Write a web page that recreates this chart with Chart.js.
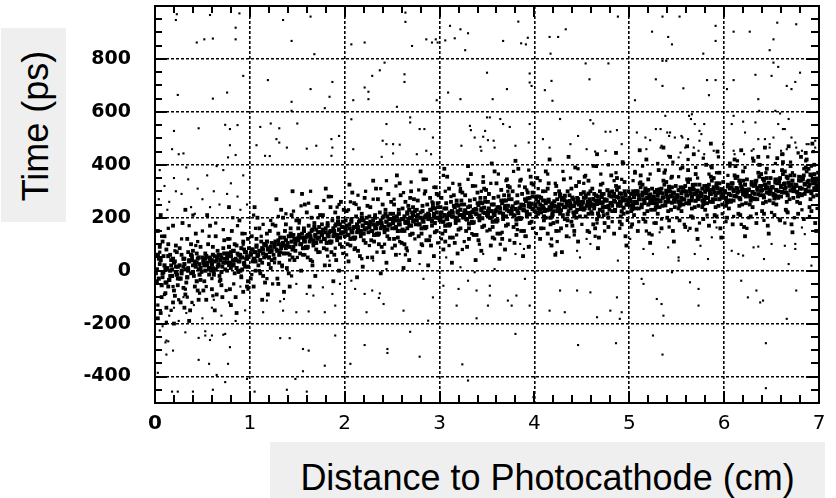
<!DOCTYPE html>
<html><head><meta charset="utf-8">
<script src="https://cdn.jsdelivr.net/npm/chart.js@4"></script>
<style>
html,body{margin:0;padding:0;background:#fff;}
#wrap{position:relative;width:836px;height:498px;overflow:hidden;background:#fff}
canvas{position:absolute;left:0;top:0}
#ybox{position:absolute;left:1px;top:28px;width:65px;height:194px;background:#efefef}
#ytitle{position:absolute;left:35px;top:126px;transform:translate(-50%,-50%) rotate(-90deg);font:36px "Liberation Sans",Arial,sans-serif;white-space:nowrap;color:#000;line-height:41px}
#xbox{position:absolute;left:270px;top:442px;width:555px;height:56px;background:#efefef}
#xtitle{position:absolute;left:270px;width:555px;top:457px;text-align:center;font:36px "Liberation Sans",Arial,sans-serif;white-space:nowrap;color:#000;line-height:41px}
</style></head>
<body><div id="wrap">
<canvas id="c" width="836" height="498"></canvas>
<div id="ybox"></div><div id="ytitle">Time (ps)</div>
<div id="xbox"></div><div id="xtitle">Distance to Photocathode (cm)</div>
</div>
<script>
// ---- axis ticks ----
const xTicks = [0,1,2,3,4,5,6,7];
const yTicks = [-400,-200,0,200,400,600,800];

// ---- dense band, flat [x,y, x,y, ...] pairs, by unit of distance ----
const band0 = [0.02,-40,0.05,25,0.08,110,0.11,-85,0.13,10,0.16,60,0.19,-120,0.21,35,0.23,-15,0.03,150,0.06,-160,0.09,-5,0.12,80,0.14,-60,0.17,20,0.2,-200,0.22,95,0.24,-30,0.04,45,0.07,-100,0.1,130,0.15,-35,0.18,5,0.01,-10,0.23,70,0.2,-75,0.06,210,0.12,-140,0.16,-20,0.09,55,0.19,170,0.24,-55,0.03,-180,0.14,100,0.08,-25,0.21,-95,0.17,40,0.11,-45,0.05,90,0.22,15,
0.26,-30,0.28,60,0.3,15,0.32,-90,0.34,120,0.36,40,0.38,-10,0.4,75,0.42,-60,0.44,30,0.46,5,0.48,90,0.27,-120,0.29,180,0.31,45,0.33,-45,0.35,10,0.37,-150,0.39,55,0.41,-20,0.43,140,0.45,-75,0.47,25,0.49,-5,0.26,85,0.3,-65,0.34,-25,0.38,100,0.42,35,0.46,-110,0.5,50,0.28,0,0.32,230,0.36,-190,0.4,20,0.44,65,0.48,-35,0.35,70,0.45,45,0.31,-140,
0.51,30,0.53,45,0.55,20,0.57,50,0.59,35,0.61,10,0.63,55,0.65,40,0.67,25,0.69,60,0.71,15,0.73,45,0.52,-40,0.56,100,0.6,-70,0.64,130,0.68,-20,0.72,85,0.54,-110,0.58,170,0.62,-5,0.66,75,0.7,-55,0.74,5,0.53,65,0.57,-15,0.61,90,0.65,-90,0.69,-35,0.73,115,0.55,210,0.63,-150,0.71,-100,0.59,0,0.67,60,0.51,-75,0.75,30,0.6,40,0.66,15,0.7,50,
0.76,55,0.78,20,0.8,70,0.82,40,0.84,-10,0.86,95,0.88,35,0.9,60,0.92,5,0.94,80,0.96,45,0.98,-40,0.77,120,0.79,-70,0.81,150,0.83,25,0.85,-100,0.87,65,0.89,190,0.91,-25,0.93,110,0.95,15,0.97,-60,0.99,85,0.76,0,0.8,-130,0.84,100,0.88,-5,0.92,140,0.96,70,0.78,240,0.86,-160,0.94,30,0.82,75,0.9,50,0.98,120,0.85,45,0.93,-80,0.8,10,0.97,55];
const band1 = [1.01,65,1.03,80,1.05,45,1.07,90,1.09,60,1.11,75,1.13,30,1.15,100,1.17,55,1.19,85,1.21,70,1.23,40,1.02,130,1.06,0,1.1,160,1.14,-20,1.18,140,1.22,10,1.04,-60,1.08,200,1.12,110,1.16,-45,1.2,25,1.24,175,1.03,35,1.07,120,1.11,-10,1.15,50,1.19,-90,1.23,105,1.05,240,1.13,-110,1.21,150,1.09,20,1.17,95,1.01,-30,1.25,60,1.14,80,1.06,70,1.2,50,
1.26,100,1.28,80,1.3,115,1.32,70,1.34,95,1.36,125,1.38,85,1.4,105,1.42,60,1.44,130,1.46,90,1.48,110,1.27,170,1.31,30,1.35,200,1.39,10,1.43,160,1.47,40,1.29,-30,1.33,230,1.37,150,1.41,-10,1.45,50,1.49,190,1.26,45,1.3,140,1.34,20,1.38,175,1.42,-60,1.46,135,1.28,270,1.36,-80,1.44,210,1.32,100,1.4,65,1.48,75,1.3,-50,1.45,300,1.35,95,1.49,120,
1.51,125,1.53,100,1.55,140,1.57,115,1.59,90,1.61,135,1.63,110,1.65,150,1.67,105,1.69,130,1.71,120,1.73,145,1.52,190,1.56,60,1.6,220,1.64,40,1.68,180,1.72,70,1.54,0,1.58,250,1.62,170,1.66,20,1.7,80,1.74,210,1.53,65,1.57,160,1.61,50,1.65,200,1.69,-20,1.73,165,1.55,290,1.63,-60,1.71,240,1.59,125,1.67,95,1.51,160,1.75,110,1.6,85,1.7,155,1.64,130,
1.76,145,1.78,120,1.8,160,1.82,135,1.84,110,1.86,150,1.88,130,1.9,170,1.92,125,1.94,155,1.96,140,1.98,165,1.77,210,1.81,80,1.85,240,1.89,60,1.93,200,1.97,90,1.79,20,1.83,280,1.87,190,1.91,40,1.95,100,1.99,230,1.78,85,1.82,180,1.86,70,1.9,220,1.94,0,1.98,185,1.8,310,1.88,-40,1.96,260,1.84,145,1.92,115,1.76,175,2.0,130,1.85,105,1.95,175,1.89,150];
const band2 = [2.01,160,2.03,135,2.05,175,2.07,150,2.09,125,2.11,165,2.13,145,2.15,185,2.17,140,2.19,170,2.21,155,2.23,180,2.02,225,2.06,95,2.1,255,2.14,75,2.18,215,2.22,105,2.04,35,2.08,295,2.12,205,2.16,55,2.2,115,2.24,245,2.03,100,2.07,195,2.11,85,2.15,235,2.19,15,2.23,200,2.05,325,2.13,-25,2.21,275,2.09,160,2.17,130,2.01,190,2.25,145,2.1,120,2.2,190,2.14,165,
2.26,175,2.28,150,2.3,190,2.32,165,2.34,140,2.36,180,2.38,160,2.4,200,2.42,155,2.44,185,2.46,170,2.48,195,2.27,240,2.31,110,2.35,270,2.39,90,2.43,230,2.47,120,2.29,50,2.33,310,2.37,220,2.41,70,2.45,130,2.49,260,2.28,115,2.32,210,2.36,100,2.4,250,2.44,30,2.48,215,2.3,340,2.38,-10,2.46,290,2.34,175,2.42,145,2.26,205,2.5,160,2.35,135,2.45,205,2.39,180,
2.51,190,2.53,160,2.55,205,2.57,175,2.6,150,2.62,195,2.64,180,2.66,215,2.68,170,2.7,200,2.72,185,2.74,225,2.52,250,2.56,125,2.59,285,2.63,100,2.67,245,2.71,140,2.54,60,2.58,330,2.61,235,2.65,85,2.69,135,2.73,270,2.52,120,2.57,230,2.6,105,2.64,260,2.68,40,2.72,240,2.55,360,2.62,10,2.7,300,2.58,190,2.66,160,2.51,215,2.75,175,2.63,150,2.71,220,2.67,195,2.53,95,2.69,275,
2.76,205,2.78,175,2.8,220,2.82,190,2.84,165,2.86,210,2.88,195,2.9,230,2.92,185,2.94,215,2.96,200,2.98,240,2.77,265,2.81,140,2.85,300,2.89,115,2.93,255,2.97,150,2.79,70,2.83,345,2.87,250,2.91,95,2.95,145,2.99,285,2.78,130,2.82,245,2.86,115,2.9,275,2.94,55,2.98,255,2.8,375,2.88,20,2.96,315,2.84,200,2.92,170,2.76,230,3.0,190,2.85,160,2.95,235,2.89,210,2.81,100,2.97,290];
const band3 = [3.01,210,3.03,185,3.05,235,3.07,200,3.09,175,3.11,220,3.13,205,3.15,245,3.17,190,3.19,225,3.21,210,3.23,250,3.02,275,3.06,150,3.1,310,3.14,125,3.18,265,3.22,160,3.04,80,3.08,355,3.12,260,3.16,105,3.2,155,3.24,295,3.03,140,3.07,255,3.11,125,3.15,285,3.19,65,3.23,265,3.05,385,3.13,30,3.21,325,3.09,210,3.17,180,3.01,240,3.25,200,3.1,170,3.2,245,3.14,220,3.06,110,3.22,300,
3.26,220,3.28,195,3.3,240,3.32,210,3.34,185,3.36,230,3.38,215,3.4,255,3.42,200,3.44,235,3.46,220,3.48,260,3.27,285,3.31,160,3.35,320,3.39,135,3.43,275,3.47,170,3.29,90,3.33,365,3.37,270,3.41,115,3.45,165,3.49,305,3.28,150,3.32,265,3.36,135,3.4,295,3.44,75,3.48,275,3.3,395,3.38,40,3.46,335,3.34,220,3.42,190,3.26,250,3.5,210,3.35,180,3.45,255,3.39,230,3.31,120,3.47,310,
3.51,225,3.53,200,3.55,250,3.57,215,3.59,190,3.61,240,3.63,220,3.65,265,3.67,205,3.69,245,3.71,230,3.73,270,3.52,290,3.56,165,3.6,330,3.64,140,3.68,285,3.72,175,3.54,95,3.58,375,3.62,280,3.66,120,3.7,170,3.74,315,3.53,155,3.57,275,3.61,140,3.65,305,3.69,80,3.73,285,3.55,405,3.63,45,3.71,345,3.59,225,3.67,195,3.51,260,3.75,215,3.6,185,3.7,265,3.64,235,3.56,125,3.72,320,
3.76,235,3.78,210,3.8,255,3.82,225,3.84,200,3.86,250,3.88,230,3.9,270,3.92,215,3.94,255,3.96,240,3.98,280,3.77,300,3.81,175,3.85,340,3.89,150,3.93,295,3.97,185,3.79,105,3.83,385,3.87,290,3.91,130,3.95,180,3.99,325,3.78,165,3.82,285,3.86,150,3.9,315,3.94,90,3.98,295,3.8,415,3.88,55,3.96,355,3.84,235,3.92,205,3.76,270,4.0,225,3.85,195,3.95,275,3.89,245,3.81,135,3.97,330];
const band4 = [4.01,250,4.02,205,4.04,235,4.05,280,4.07,220,4.08,245,4.1,190,4.11,265,4.13,230,4.14,310,4.16,240,4.17,175,4.19,255,4.2,225,4.22,290,4.23,150,4.25,240,4.03,350,4.06,120,4.09,265,4.12,200,4.15,330,4.18,95,4.21,245,4.24,185,4.02,270,4.07,160,4.12,375,4.17,230,4.22,60,4.04,215,4.09,300,4.14,140,4.19,210,4.24,270,4.06,250,4.11,225,4.16,420,4.2,180,4.15,260,4.1,235,4.23,320,4.18,240,
4.26,235,4.27,280,4.29,250,4.3,210,4.32,265,4.33,240,4.35,300,4.36,225,4.38,255,4.39,185,4.41,270,4.42,245,4.44,320,4.45,230,4.47,260,4.48,205,4.5,250,4.28,160,4.31,345,4.34,130,4.37,285,4.4,170,4.43,390,4.46,110,4.49,290,4.27,215,4.32,195,4.37,245,4.42,150,4.47,335,4.29,70,4.34,260,4.39,310,4.44,200,4.49,240,4.31,275,4.36,430,4.41,220,4.46,255,4.26,300,4.35,190,4.45,275,4.4,245,
4.51,260,4.52,230,4.54,285,4.55,245,4.57,215,4.58,270,4.6,250,4.61,310,4.63,235,4.64,265,4.66,195,4.67,280,4.69,255,4.7,325,4.72,240,4.73,210,4.75,265,4.53,355,4.56,150,4.59,300,4.62,175,4.65,395,4.68,125,4.71,290,4.74,180,4.52,275,4.57,340,4.62,250,4.67,85,4.72,225,4.54,205,4.59,245,4.64,160,4.69,300,4.74,270,4.56,260,4.61,215,4.66,440,4.71,255,4.63,290,4.58,235,4.68,205,4.73,290,
4.76,265,4.77,240,4.79,295,4.8,255,4.82,225,4.83,280,4.85,260,4.86,320,4.88,245,4.89,275,4.91,205,4.92,290,4.94,265,4.95,335,4.97,250,4.98,220,5.0,275,4.78,165,4.81,360,4.84,140,4.87,305,4.9,185,4.93,410,4.96,130,4.99,300,4.77,215,4.82,245,4.87,350,4.92,175,4.97,95,4.79,230,4.84,290,4.89,315,4.94,215,4.99,260,4.81,280,4.86,445,4.91,245,4.96,270,4.85,225,4.9,260,4.95,300,4.78,200];
const band5 = [5.01,270,5.02,245,5.04,300,5.05,260,5.07,235,5.08,290,5.1,270,5.11,330,5.13,250,5.14,285,5.16,215,5.17,300,5.19,275,5.2,345,5.22,260,5.23,230,5.25,280,5.03,175,5.06,370,5.09,150,5.12,315,5.15,195,5.18,420,5.21,140,5.24,310,5.02,225,5.07,260,5.12,360,5.17,185,5.22,105,5.04,240,5.09,300,5.14,325,5.19,225,5.24,265,5.06,290,5.11,455,5.16,255,5.21,280,5.1,235,5.15,270,5.2,305,5.05,210,5.23,255,
5.26,280,5.27,255,5.29,305,5.3,270,5.32,240,5.33,295,5.35,275,5.36,340,5.38,260,5.39,290,5.41,225,5.42,310,5.44,280,5.45,355,5.47,265,5.48,240,5.5,285,5.28,180,5.31,380,5.34,160,5.37,325,5.4,200,5.43,430,5.46,150,5.49,320,5.27,230,5.32,265,5.37,370,5.42,190,5.47,110,5.29,245,5.34,310,5.39,335,5.44,230,5.49,270,5.31,295,5.36,465,5.41,260,5.46,290,5.35,245,5.4,280,5.45,315,5.3,215,5.48,260,
5.51,285,5.52,260,5.54,315,5.55,275,5.57,250,5.58,300,5.6,285,5.61,345,5.63,265,5.64,300,5.66,235,5.67,315,5.69,290,5.7,365,5.72,275,5.73,245,5.75,295,5.53,190,5.56,390,5.59,165,5.62,335,5.65,205,5.68,440,5.71,155,5.74,325,5.52,235,5.57,270,5.62,380,5.67,200,5.72,120,5.54,250,5.59,320,5.64,345,5.69,240,5.74,280,5.56,300,5.61,470,5.66,265,5.71,295,5.6,255,5.65,290,5.7,325,5.55,225,5.73,270,
5.76,290,5.77,265,5.79,320,5.8,280,5.82,255,5.83,310,5.85,290,5.86,355,5.88,270,5.89,305,5.91,240,5.92,320,5.94,295,5.95,370,5.97,280,5.98,250,6.0,300,5.78,195,5.81,400,5.84,170,5.87,340,5.9,210,5.93,450,5.96,160,5.99,335,5.77,240,5.82,275,5.87,390,5.92,205,5.97,125,5.79,255,5.84,325,5.89,350,5.94,245,5.99,285,5.81,305,5.86,480,5.91,270,5.96,300,5.85,260,5.9,295,5.95,330,5.8,230,5.98,275];
const band6 = [6.01,295,6.02,270,6.04,325,6.05,290,6.07,260,6.08,315,6.1,300,6.11,360,6.13,280,6.14,310,6.16,245,6.17,330,6.19,300,6.2,375,6.22,285,6.23,255,6.25,305,6.03,200,6.06,405,6.09,175,6.12,350,6.15,215,6.18,455,6.21,165,6.24,345,6.02,245,6.07,285,6.12,395,6.17,210,6.22,130,6.04,265,6.09,330,6.14,355,6.19,250,6.24,290,6.06,310,6.11,420,6.16,275,6.21,305,6.1,265,6.15,300,6.2,340,6.05,235,6.23,280,
6.26,305,6.27,280,6.29,335,6.3,295,6.32,270,6.33,325,6.35,305,6.36,370,6.38,285,6.39,320,6.41,255,6.42,340,6.44,310,6.45,385,6.47,295,6.48,265,6.5,315,6.28,205,6.31,415,6.34,180,6.37,355,6.4,225,6.43,465,6.46,170,6.49,350,6.27,250,6.32,290,6.37,400,6.42,215,6.47,140,6.29,275,6.34,340,6.39,365,6.44,260,6.49,300,6.31,320,6.36,430,6.41,285,6.46,315,6.35,270,6.4,305,6.45,350,6.3,240,6.48,290,
6.51,315,6.52,285,6.54,345,6.55,305,6.57,275,6.58,335,6.6,315,6.61,380,6.63,295,6.64,330,6.66,260,6.67,350,6.69,320,6.7,395,6.72,305,6.73,275,6.75,325,6.53,210,6.56,425,6.59,190,6.62,365,6.65,230,6.68,470,6.71,175,6.74,360,6.52,255,6.57,300,6.62,410,6.67,220,6.72,145,6.54,285,6.59,350,6.64,375,6.69,270,6.74,310,6.56,330,6.61,440,6.66,295,6.71,325,6.6,280,6.65,315,6.7,360,6.55,250,6.73,300,
6.76,320,6.77,295,6.79,355,6.8,310,6.82,285,6.83,345,6.85,325,6.86,390,6.88,300,6.89,340,6.91,270,6.92,360,6.94,330,6.95,400,6.97,315,6.98,285,7.0,335,6.78,215,6.81,430,6.84,195,6.87,375,6.9,240,6.93,480,6.96,180,6.99,370,6.77,260,6.82,310,6.87,420,6.92,225,6.97,150,6.79,290,6.84,360,6.89,385,6.94,280,6.99,320,6.81,340,6.86,445,6.91,300,6.96,335,6.85,290,6.9,325,6.95,365,6.8,255,6.98,310];

// ---- dark core of the band ----
const core0 = [0.02,5,0.04,-30,0.06,40,0.08,-10,0.1,20,0.12,-45,0.14,55,0.16,0,0.18,-20,0.2,30,0.22,-5,0.24,15,0.03,60,0.07,-55,0.11,10,0.15,-35,0.19,45,0.23,-15,
0.26,20,0.28,-10,0.3,45,0.32,5,0.34,-25,0.36,35,0.38,60,0.4,-5,0.42,25,0.44,-40,0.46,50,0.48,10,0.27,-30,0.31,25,0.35,0,0.39,40,0.43,15,0.47,-15,
0.51,40,0.52,20,0.54,55,0.55,30,0.57,10,0.58,45,0.6,25,0.61,60,0.63,35,0.64,5,0.66,50,0.67,20,0.69,40,0.7,-5,0.72,30,0.73,65,0.53,0,0.62,-15,
0.76,45,0.77,65,0.79,30,0.8,55,0.82,20,0.83,75,0.85,40,0.86,10,0.88,60,0.89,35,0.91,85,0.92,50,0.94,25,0.95,70,0.97,45,0.98,15,0.78,90,0.9,0];
const core1 = [1.01,60,1.02,80,1.04,45,1.05,70,1.07,95,1.08,55,1.1,75,1.11,40,1.13,85,1.14,65,1.16,100,1.17,60,1.19,80,1.2,50,1.22,90,1.23,75,1.06,35,1.18,110,
1.26,90,1.27,110,1.29,75,1.3,100,1.32,125,1.33,85,1.35,105,1.36,65,1.38,115,1.39,95,1.41,130,1.42,90,1.44,110,1.45,80,1.47,120,1.48,100,1.31,60,1.43,140,
1.51,115,1.52,135,1.54,100,1.55,125,1.57,150,1.58,110,1.6,130,1.61,90,1.63,140,1.64,120,1.66,155,1.67,115,1.69,135,1.7,105,1.72,145,1.73,125,1.56,85,1.68,165,
1.76,135,1.77,155,1.79,120,1.8,145,1.82,170,1.83,130,1.85,150,1.86,110,1.88,160,1.89,140,1.91,175,1.92,135,1.94,155,1.95,125,1.97,165,1.98,145,1.81,105,1.93,185];
const core2 = [2.01,150,2.02,170,2.04,135,2.05,160,2.07,185,2.08,145,2.1,165,2.11,125,2.13,175,2.14,155,2.16,190,2.17,150,2.19,170,2.2,140,2.22,180,2.23,160,2.06,120,2.18,200,
2.26,165,2.27,185,2.29,150,2.3,175,2.32,200,2.33,160,2.35,180,2.36,140,2.38,190,2.39,170,2.41,205,2.42,165,2.44,185,2.45,155,2.47,195,2.48,175,2.31,135,2.43,215,
2.51,180,2.52,200,2.54,165,2.55,190,2.57,215,2.58,175,2.6,195,2.61,155,2.63,205,2.64,185,2.66,220,2.67,180,2.69,200,2.7,170,2.72,210,2.73,190,2.56,150,2.68,230,
2.76,190,2.77,210,2.79,175,2.8,200,2.82,225,2.83,185,2.85,205,2.86,165,2.88,215,2.89,195,2.91,230,2.92,190,2.94,210,2.95,180,2.97,220,2.98,200,2.81,160,2.93,240];
const core3 = [3.01,200,3.02,220,3.04,185,3.05,210,3.07,235,3.08,195,3.1,215,3.11,175,3.13,225,3.14,205,3.16,240,3.17,200,3.19,220,3.2,190,3.22,230,3.23,210,3.06,170,3.18,250,
3.26,208,3.27,228,3.29,193,3.3,218,3.32,243,3.33,203,3.35,223,3.36,183,3.38,233,3.39,213,3.41,248,3.42,208,3.44,228,3.45,198,3.47,238,3.48,218,3.31,178,3.43,258,
3.51,215,3.52,235,3.54,200,3.55,225,3.57,250,3.58,210,3.6,230,3.61,190,3.63,240,3.64,220,3.66,255,3.67,215,3.69,235,3.7,205,3.72,245,3.73,225,3.56,185,3.68,265,
3.76,223,3.77,243,3.79,208,3.8,233,3.82,258,3.83,218,3.85,238,3.86,198,3.88,248,3.89,228,3.91,263,3.92,223,3.94,243,3.95,213,3.97,253,3.98,233,3.81,193,3.93,273];
const core4 = [4.01,245,4.03,220,4.04,260,4.06,232,4.07,275,4.09,240,4.1,205,4.12,255,4.13,228,4.15,268,4.16,236,4.18,250,4.19,214,4.21,262,4.22,242,4.24,225,4.02,280,4.17,200,
4.26,250,4.28,228,4.29,268,4.31,240,4.32,283,4.34,248,4.35,213,4.37,263,4.38,236,4.4,276,4.41,244,4.43,258,4.44,222,4.46,270,4.47,250,4.49,233,4.27,288,4.42,208,
4.51,258,4.53,236,4.54,276,4.56,248,4.57,291,4.59,256,4.6,221,4.62,271,4.63,244,4.65,284,4.66,252,4.68,266,4.69,230,4.71,278,4.72,258,4.74,241,4.52,296,4.67,216,
4.76,266,4.78,244,4.79,284,4.81,256,4.82,299,4.84,264,4.85,229,4.87,279,4.88,252,4.9,292,4.91,260,4.93,274,4.94,238,4.96,286,4.97,266,4.99,249,4.77,304,4.92,224];
const core5 = [5.01,262,5.02,290,5.04,248,5.05,278,5.07,300,5.08,255,5.1,285,5.11,270,5.13,240,5.14,295,5.16,265,5.17,310,5.19,275,5.2,250,5.22,288,5.23,268,5.03,232,5.18,292,
5.26,269,5.27,297,5.29,255,5.3,285,5.32,307,5.33,262,5.35,292,5.36,277,5.38,247,5.39,302,5.41,272,5.42,317,5.44,282,5.45,257,5.47,295,5.48,275,5.28,239,5.43,299,
5.51,276,5.52,304,5.54,262,5.55,292,5.57,314,5.58,269,5.6,299,5.61,284,5.63,254,5.64,309,5.66,279,5.67,324,5.69,289,5.7,264,5.72,302,5.73,282,5.53,246,5.68,306,
5.76,282,5.77,310,5.79,268,5.8,298,5.82,320,5.83,275,5.85,305,5.86,290,5.88,260,5.89,315,5.91,285,5.92,330,5.94,295,5.95,270,5.97,308,5.98,288,5.78,252,5.93,312];
const core6 = [6.01,300,6.02,275,6.04,318,6.05,290,6.07,265,6.08,330,6.1,305,6.11,282,6.13,312,6.14,295,6.16,340,6.17,270,6.19,308,6.2,288,6.22,325,6.23,298,6.03,258,6.18,318,
6.26,307,6.27,282,6.29,325,6.3,297,6.32,272,6.33,337,6.35,312,6.36,289,6.38,319,6.39,302,6.41,347,6.42,277,6.44,315,6.45,295,6.47,332,6.48,305,6.28,265,6.43,325,
6.51,315,6.52,290,6.54,333,6.55,305,6.57,280,6.58,345,6.6,320,6.61,297,6.63,327,6.64,310,6.66,355,6.67,285,6.69,323,6.7,303,6.72,340,6.73,313,6.53,273,6.68,333,
6.76,323,6.77,298,6.79,341,6.8,313,6.82,288,6.83,353,6.85,328,6.86,305,6.88,335,6.89,318,6.91,363,6.92,293,6.94,331,6.95,311,6.97,348,6.98,321,6.78,281,6.93,341];

// ---- wider halo around the band ----
const halo0 = [0.03,-130,0.07,130,0.1,-90,0.14,160,0.17,-150,0.21,75,0.25,-110,0.28,120,0.32,-70,0.36,170,0.39,-120,0.43,95,0.47,-85,0.5,150,0.54,-60,0.57,130,0.61,-95,0.64,180,0.68,-40,0.72,155,0.75,-75,0.79,120,0.83,-50,0.87,170,0.91,-20,0.95,140,0.98,-70,0.05,70,0.19,-60,0.34,-100,0.45,110,0.6,-30,0.82,200,0.93,100,0.12,-195,0.4,210];
const halo1 = [1.02,-15,1.06,160,1.1,0,1.14,175,1.18,-30,1.22,190,1.26,30,1.3,205,1.34,15,1.38,215,1.42,40,1.46,225,1.5,50,1.54,245,1.58,60,1.62,255,1.66,35,1.7,240,1.74,70,1.78,265,1.82,55,1.86,280,1.9,85,1.94,250,1.98,65,1.04,210,1.24,-50,1.44,-20,1.64,300,1.84,20,1.12,130,1.52,180,1.72,200,1.92,240];
const halo2 = [2.02,60,2.06,260,2.1,80,2.14,285,2.18,45,2.22,300,2.26,95,2.3,270,2.34,70,2.38,310,2.42,100,2.46,290,2.5,85,2.54,320,2.58,110,2.62,295,2.66,75,2.7,335,2.74,120,2.78,305,2.82,95,2.86,345,2.9,130,2.94,315,2.98,105,2.04,230,2.24,50,2.44,340,2.64,60,2.84,290,2.12,250,2.52,270,2.72,140,2.92,260];
const halo3 = [3.02,120,3.06,300,3.1,95,3.14,330,3.18,135,3.22,310,3.26,110,3.3,345,3.34,140,3.38,320,3.42,100,3.46,355,3.5,150,3.54,330,3.58,120,3.62,365,3.66,145,3.7,340,3.74,115,3.78,375,3.82,155,3.86,345,3.9,130,3.94,380,3.98,160,3.04,360,3.24,80,3.44,300,3.64,100,3.84,320,3.12,280,3.52,290,3.72,300,3.92,305];
const halo4 = [4.02,140,4.06,340,4.1,160,4.14,365,4.18,120,4.22,330,4.26,150,4.3,375,4.34,170,4.38,350,4.42,135,4.46,385,4.5,175,4.54,360,4.58,145,4.62,395,4.66,180,4.7,365,4.74,150,4.78,400,4.82,185,4.86,370,4.9,160,4.94,405,4.98,190,4.04,310,4.24,110,4.44,320,4.64,130,4.84,340,4.12,300,4.52,330,4.72,330,4.92,345];
const halo5 = [5.02,165,5.06,375,5.1,185,5.14,395,5.18,150,5.22,365,5.26,180,5.3,405,5.34,195,5.38,380,5.42,165,5.46,410,5.5,200,5.54,385,5.58,175,5.62,420,5.66,205,5.7,390,5.74,180,5.78,425,5.82,210,5.86,395,5.9,185,5.94,430,5.98,215,5.04,340,5.24,135,5.44,350,5.64,160,5.84,365,5.12,335,5.52,355,5.72,350,5.92,370];
const halo6 = [6.02,185,6.06,395,6.1,205,6.14,415,6.18,175,6.22,390,6.26,200,6.3,425,6.34,215,6.38,400,6.42,190,6.46,430,6.5,220,6.54,405,6.58,195,6.62,440,6.66,225,6.7,410,6.74,200,6.78,445,6.82,230,6.86,415,6.9,205,6.94,450,6.98,235,6.04,360,6.24,160,6.44,370,6.64,180,6.84,385,6.12,355,6.52,375,6.72,370,6.92,395];

// ---- scattered points ----
const upperPoints = [0.23,969,0.22,947,0.58,966,0.89,972,0.85,918,0.44,862,0.52,874,0.61,877,0.85,874,1.35,947,1.44,868,1.64,960,1.68,818,2.07,855,2.21,862,2.64,975,2.64,940,2.71,849,2.86,874,2.92,862,2.96,874,2.98,862,3.06,870,3.16,878,3.11,925,3.22,912,3.30,897,3.27,833,
0.93,736,0.24,664,0.61,650,0.76,673,1.19,720,1.44,638,1.64,686,1.84,657,1.87,713,2.09,644,2.21,692,2.25,676,2.25,648,2.29,736,2.37,757,2.42,786,2.63,742,2.63,713,2.97,644,3.09,673,3.22,648,3.50,748,1.79,614,
0.20,528,0.46,538,0.74,551,0.79,535,0.87,550,0.18,459,0.30,443,0.25,440,0.79,474,0.77,428,0.85,437,1.11,543,1.22,556,1.31,538,1.28,497,1.31,484,1.39,465,1.07,474,1.16,434,1.21,433,1.44,604,1.50,556,1.60,461,1.70,472,1.86,497,1.87,465,1.94,509,1.86,434,2.07,572,2.09,459,2.40,491,2.44,478,2.51,478,2.58,476,2.44,554,2.55,619,2.69,579,2.69,560,2.79,535,2.84,535,2.93,503,2.39,430,2.51,443,2.76,440,2.86,453,2.91,440,3.32,547,3.33,531,3.37,503,3.46,506,3.51,493,3.23,472,3.43,468,3.44,453,3.50,579,
3.83,941,3.67,868,3.86,859,3.91,855,3.93,880,4.16,883,4.25,883,4.33,912,4.17,820,4.88,960,5.24,903,5.35,960,5.53,960,5.41,883,5.45,855,5.78,820,5.91,925,5.91,868,6.10,903,6.27,903,6.52,874,6.48,833,6.56,937,6.76,931,
3.56,648,3.71,686,3.95,745,3.95,711,3.97,698,4.11,682,4.18,717,4.19,642,4.54,783,4.78,783,4.58,723,5.06,644,5.28,723,5.35,698,5.57,689,5.82,720,5.91,720,5.84,663,6.03,686,6.10,720,6.33,740,6.36,648,6.50,736,6.66,698,6.71,686,6.75,713,6.52,786,6.57,770,6.80,748,5.35,793,5.39,793,
3.48,528,3.53,579,3.64,573,3.67,554,3.74,543,3.80,472,3.94,484,3.95,554,3.57,491,3.58,465,4.09,497,4.16,465,4.27,573,4.38,478,4.46,509,4.59,569,4.62,556,4.75,525,4.80,525,4.87,531,4.55,459,4.64,450,4.75,453,4.92,478,5.08,522,5.17,503,5.22,493,5.33,535,5.43,522,5.48,503,5.56,503,5.74,528,5.74,491,5.18,459,5.33,465,5.54,446,5.68,465,5.89,453,5.63,585,5.65,573,6.10,585,6.20,563,6.37,604,6.54,604,6.59,594,6.22,522,6.36,497,6.52,503,6.62,535,6.31,459,6.48,465,6.66,459,6.76,465,6.87,478,6.96,491,5.99,478,6.10,453,
5.38,585,5.28,535,5.40,522,5.42,509,5.55,509,5.62,497,5.69,554,5.79,554,5.76,516,5.73,453,5.79,440,5.59,465,5.41,434,5.52,428,6.08,554,6.11,440,6.21,440,6.29,453,6.33,560,6.43,497,6.48,478,6.57,554,6.64,535,6.68,573,6.71,503,6.75,484,6.60,453,6.82,453,6.89,478,6.96,465,5.66,591,5.34,472];
const lowerPoints = [0.05,-226,0.12,-264,0.19,-302,0.46,-254,0.53,-245,0.58,-262,0.72,-242,0.79,-289,0.46,-337,0.57,-352,0.77,-352,0.03,-386,1.32,-255,1.42,-255,1.56,-296,1.62,-302,1.56,-380,1.79,-359,1.90,-245,2.06,-352,2.21,-281,2.45,-296,2.45,-311,2.69,-231,2.79,-325,3.24,-354,0.65,-394,0.74,-421,0.97,-409,1.48,-409,3.30,-415,0.18,-457,0.24,-457,0.40,-457,0.61,-450,1.05,-457,1.39,-450,1.60,-457,0.12,-317,0.11,-271,0.14,-267,0.60,-245,0.74,-239,0.32,-233,0.53,-229,3.80,-239,4.46,-281,4.86,-274,5.25,-245,5.35,-317,6.44,-274,6.44,-444,3.99,-478];
const sparsePoints = [1.18,-113,1.32,-116,1.36,-107,1.49,-50,1.60,-88,1.67,-94,1.77,-63,1.87,-88,1.90,-132,1.95,-50,1.79,-157,1.62,-154,1.49,-157,1.35,-151,1.14,-157,2.21,-88,2.37,-86,2.36,-103,2.41,-126,2.62,-151,2.23,-157,2.11,-69,2.29,-75,2.83,-31,2.93,-101,3.04,-57,3.20,-69,3.30,-38,3.39,-75,3.18,-132,3.39,-180,2.88,-189,
3.53,-57,3.53,-94,3.51,-132,3.72,-113,3.76,-132,3.81,-94,3.90,-31,3.95,-132,4.16,-151,4.27,-75,4.32,-157,4.45,-75,4.59,-82,4.66,-176,4.80,-151,4.87,-101,4.90,-182,4.92,-157,5.13,-31,5.15,-50,5.29,-107,5.34,-126,5.36,-170,5.45,-6,5.64,-44,5.73,-69,5.73,-132,6.18,-38,6.25,-101,6.34,-75,6.38,-120,6.41,-113,6.66,-182,6.76,-75,
5.32,145,5.41,88,5.52,50,5.52,38,5.62,151,5.75,94,5.69,63,5.83,44,5.87,126,5.92,163,6.08,75,6.15,63,6.20,57,6.31,88,6.36,91,6.42,44,6.50,101,6.64,94,6.75,101,6.75,82,6.68,25,6.82,163,6.85,138,6.92,19,
3.80,63,3.89,82,3.95,94,4.16,101,4.23,69,4.45,75,4.48,50,4.59,101,4.88,38,5.01,120,5.15,82,5.25,63,3.58,6,3.85,101,4.37,126,4.55,120,
1.84,38,2.07,-38,2.30,38,2.44,6,2.58,63,2.79,25,3.07,50,3.22,13,3.37,-6,3.46,63,
0.05,380,0.1,320,0.15,260,0.2,350,0.28,290,0.33,390,0.38,240,0.45,310,0.5,270,0.55,360,0.62,300,0.68,250,0.72,380,0.8,330,0.87,280,0.93,360,0.97,250,0.04,270,0.13,230,0.22,300,0.42,215,0.58,240,0.76,290,0.9,230,0.35,345,0.65,395,
0.08,-210,0.15,-170,0.25,-190,0.33,-160,0.41,-130,0.5,-180,0.6,-140,0.7,-170,0.85,-190,0.95,-150,0.3,-100,0.62,-110,0.2,-140,0.78,-120,0.9,-60];

function toPoints(flat){ const out=[]; for(let i=0;i+1<flat.length;i+=2) out.push({x:flat[i], y:flat[i+1]}); return out; }

const framePlugin = {
  id:'frame',
  afterDatasetsDraw(chart){
    const {ctx, chartArea:a, scales:{x, y}} = chart;
    ctx.save();
    ctx.strokeStyle = '#000';
    ctx.lineWidth = 2;
    ctx.strokeRect(a.left, a.top, a.right - a.left, a.bottom - a.top);
    ctx.beginPath();
    for (let i = 1; i < 35; i++) {
      const px = Math.round(x.getPixelForValue(i * 0.2));
      const L = (i % 5 === 0) ? 12 : 8;
      ctx.moveTo(px, a.bottom); ctx.lineTo(px, a.bottom - L);
      ctx.moveTo(px, a.top); ctx.lineTo(px, a.top + (L - 1));
    }
    for (let v = -450; v < 1000; v += 50) {
      const py = Math.round(y.getPixelForValue(v));
      const L = (v % 200 === 0) ? 12 : 7;
      ctx.moveTo(a.left, py); ctx.lineTo(a.left + L, py);
      ctx.moveTo(a.right, py); ctx.lineTo(a.right - (L + 1), py);
    }
    ctx.stroke();
    ctx.restore();
  }
};

const gridOpts = {color:'#000', lineWidth:1.6, drawTicks:false};
const borderOpts = {display:true, color:'#000', width:2, dash:[3,2]};
const dot = r => ({backgroundColor:'#000', borderWidth:0, pointStyle:'rect', pointRadius:r, pointHoverRadius:r});

new Chart(document.getElementById('c'), {
  type:'scatter',
  data:{datasets:[
    Object.assign({label:'band', data: toPoints([].concat(band0, band1, band2, band3, band4, band5, band6))}, dot(2.7)),
    Object.assign({label:'halo', data: toPoints([].concat(halo0, halo1, halo2, halo3, halo4, halo5, halo6))}, dot(2.3)),
    Object.assign({label:'core', data: toPoints([].concat(core0, core1, core2, core3, core4, core5, core6))}, dot(2.9)),
    Object.assign({label:'scatter', data: toPoints([].concat(upperPoints, lowerPoints, sparsePoints))}, dot(1.5))
  ]},
  options:{
    responsive:false, animation:false, devicePixelRatio:1, events:[],
    layout:{padding:{top:6, right:17, bottom:0, left:0}},
    plugins:{legend:{display:false}, tooltip:{enabled:false}},
    scales:{
      x:{type:'linear', min:0, max:7,
         afterBuildTicks: s => { s.ticks = xTicks.map(v => ({value:v})); },
         afterFit: s => { s.height = 95; s.paddingLeft = 0; s.paddingRight = 0; },
         grid:gridOpts, border:borderOpts,
         ticks:{padding:9, color:'#000', autoSkip:false, maxRotation:0,
                font: c => ({family:'DejaVu Sans', size:20, weight:(c.tick && c.tick.value === 0) ? 'bold' : 'normal'}),
                callback: v => String(v)}},
      y:{type:'linear', min:-500, max:1000,
         afterBuildTicks: s => { s.ticks = yTicks.map(v => ({value:v})); },
         afterFit: s => { s.width = 155; s.paddingTop = 0; s.paddingBottom = 0; },
         grid:gridOpts, border:borderOpts,
         ticks:{padding:24, color:'#000', autoSkip:false,
                font:{family:'DejaVu Sans', size:19, weight:'bold'},
                callback: v => String(v)}}
    }
  },
  plugins:[framePlugin]
});
</script>
</body></html>
